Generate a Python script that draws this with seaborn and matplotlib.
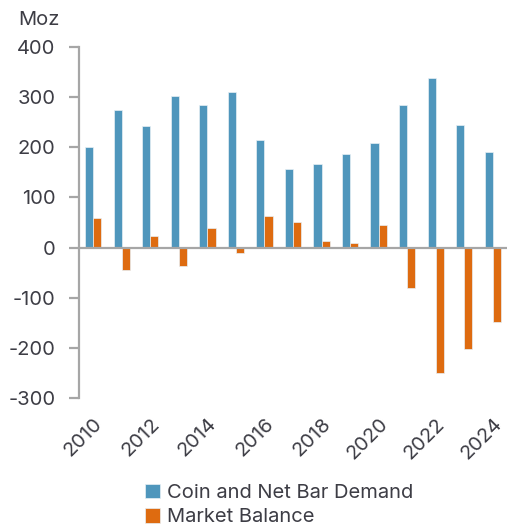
import pandas as pd
import seaborn as sns
import matplotlib.pyplot as plt

years = list(range(2010, 2025))
coin_bar = [200, 274, 242, 302, 284, 310, 214, 156, 166, 187, 209, 285, 339, 245, 191]
market_balance = [58, -44, 23, -37, 39, -11, 63, 51, 13, 9, 45, -81, -251, -202, -149]
series_names = ["Coin and Net Bar Demand", "Market Balance"]
colors = ["#4f96bc", "#de6b10"]
ytick_vals = [-300, -200, -100, 0, 100, 200, 300, 400]

df = pd.DataFrame({
    "year": years * 2,
    "value": coin_bar + market_balance,
    "series": [series_names[0]] * len(years) + [series_names[1]] * len(years),
})

sns.set_style("white")
plt.rcParams["font.family"] = ["Inter", "DejaVu Sans"]
text_col = "#3d3d45"
grey = "#a6a6a6"
fs = 14.5

fig = plt.figure(figsize=(5.07, 5.27), dpi=100)
ax = fig.add_axes([79 / 507, 1 - 398 / 527, 1 - 79 / 507, (398 - 47) / 527])

sns.barplot(data=df, x="year", y="value", hue="series", palette=colors,
            saturation=1, width=0.57, edgecolor="#e8f0f5", linewidth=0.5, ax=ax)

ax.set_xlim(-0.5, len(years) - 0.5)
ax.set_ylim(-300, 400)
ax.set_yticks(ytick_vals)
ax.set_yticklabels([str(v) for v in ytick_vals], fontsize=fs, color=text_col)
ax.axhline(0, color=grey, lw=1.6, zorder=5)

ax.set_xticks(range(0, len(years), 2))
ax.set_xticklabels([str(y) for y in years[::2]], rotation=45, ha="right",
                   rotation_mode="anchor", fontsize=fs, color=text_col)
ax.tick_params(axis="x", length=0, pad=12)
ax.tick_params(axis="y", length=7, width=1.6, color=grey, left=True, pad=10)

for s in ["top", "right", "bottom"]:
    ax.spines[s].set_visible(False)
ax.spines["left"].set_color(grey)
ax.spines["left"].set_linewidth(1.6)
ax.set_xlabel("")
ax.set_ylabel("")

fig.text(18 / 507, 1 - 20 / 527, "Moz", fontsize=fs, color=text_col, va="center")

handles, labels = ax.get_legend_handles_labels()
ax.legend_.remove()
fig.legend(handles, labels, loc="center left", bbox_to_anchor=(145 / 507, 1 - 505 / 527),
           frameon=False, fontsize=fs, handlelength=0.75, handleheight=0.75,
           handletextpad=0.35, labelspacing=0.3, labelcolor=text_col,
           borderpad=0, borderaxespad=0)

fig.savefig("out.png", dpi=100)
